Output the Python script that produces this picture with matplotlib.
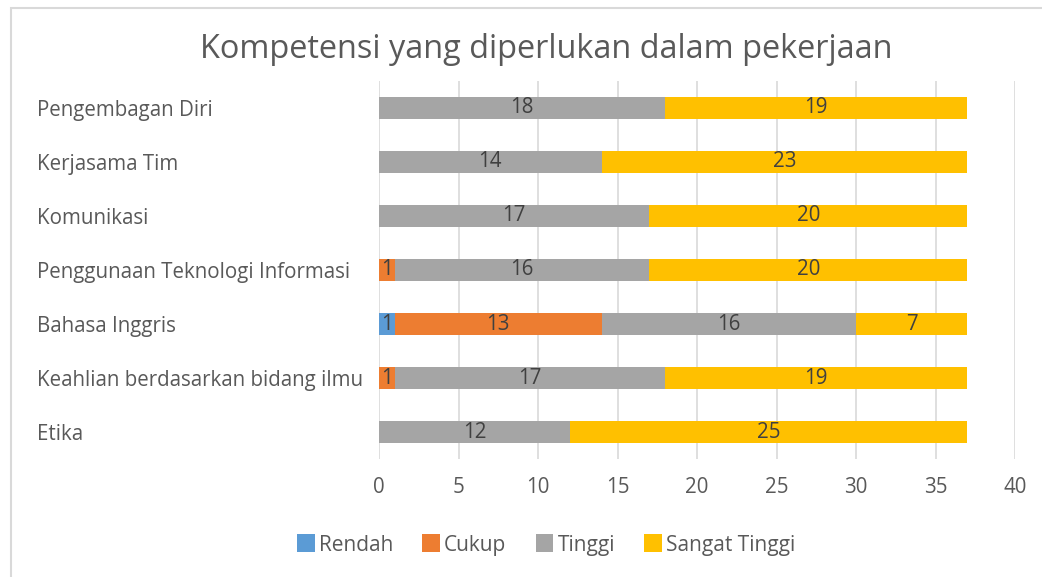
import matplotlib.pyplot as plt
import matplotlib.patches as patches

categories = [
    "Pengembagan Diri",
    "Kerjasama Tim",
    "Komunikasi",
    "Penggunaan Teknologi Informasi",
    "Bahasa Inggris",
    "Keahlian berdasarkan bidang ilmu",
    "Etika",
]
rendah = [0, 0, 0, 0, 1, 0, 0]
cukup = [0, 0, 0, 1, 13, 1, 0]
tinggi = [18, 14, 17, 16, 16, 17, 12]
sangat_tinggi = [19, 23, 20, 20, 7, 19, 25]

series_names = ["Rendah", "Cukup", "Tinggi", "Sangat Tinggi"]
colors = ["#5B9BD5", "#ED7D31", "#A5A5A5", "#FFC000"]

plt.rcParams["font.family"] = ["Open Sans", "DejaVu Sans"]

W, H = 1042, 577
fig = plt.figure(figsize=(W / 100, H / 100), dpi=100)
ax = fig.add_axes([379 / W, 1 - 459 / H, (1015 - 379) / W, (459 - 81) / H])

ypos = list(range(len(categories)))[::-1]
left = [0] * len(categories)
for name, vals, col in zip(series_names, [rendah, cukup, tinggi, sangat_tinggi], colors):
    bars = ax.barh(ypos, vals, left=left, height=0.4, color=col, label=name, zorder=3)
    labels = [str(v) if v else "" for v in vals]
    ax.bar_label(bars, labels=labels, label_type="center", color="#404040", fontsize=14.8)
    left = [a + b for a, b in zip(left, vals)]

ax.set_xlim(0, 40)
ax.set_ylim(-0.5, len(categories) - 0.5)
ax.set_xticks(range(0, 41, 5))
ax.set_yticks(ypos)
ax.set_yticklabels(categories, ha="left")
ax.tick_params(axis="y", length=0, pad=(379 - 37) * 0.72, labelsize=14.8, labelcolor="#595959")
ax.tick_params(axis="x", length=0, pad=18 * 0.72, labelsize=14.8, labelcolor="#595959")
ax.grid(axis="x", color="#D9D9D9", linewidth=1.2, zorder=0)
for s in ax.spines.values():
    s.set_visible(False)

fig.text(546 / W, 1 - 49 / H, "Kompetensi yang diperlukan dalam pekerjaan",
         ha="center", va="center", fontsize=23.4, color="#595959")

fig.legend(loc="center", bbox_to_anchor=(546 / W, 1 - 545 / H), ncol=4, frameon=False,
           fontsize=15, labelcolor="#595959", handlelength=0.85, handleheight=0.95,
           handletextpad=0.2, columnspacing=1.4)

fig.add_artist(patches.Rectangle((11 / W, -0.1), 1.2, 1 - 8 / H + 0.1, transform=fig.transFigure,
                                 fill=False, edgecolor="#D9D9D9", linewidth=1.5))

fig.savefig("out.png", dpi=100)
